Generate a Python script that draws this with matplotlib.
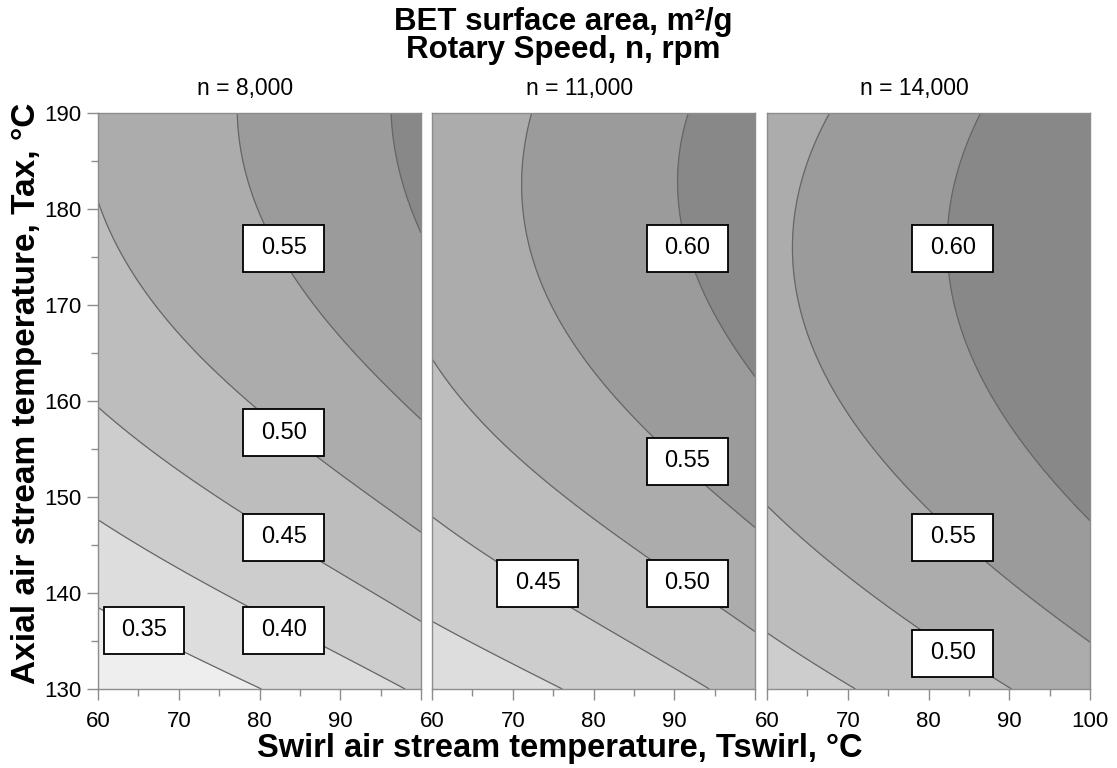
import numpy as np
import matplotlib
matplotlib.use("Agg")
import matplotlib.pyplot as plt
from matplotlib.colors import ListedColormap, BoundaryNorm
from matplotlib.patches import Rectangle

plt.rcParams['font.family'] = ['Liberation Sans', 'DejaVu Sans']

# ---- data -------------------------------------------------------------
panel_titles = ["n = 8,000", "n = 11,000", "n = 14,000"]
line_levels = [0.35, 0.40, 0.45, 0.50, 0.55, 0.60]
fill_levels = [0.0, 0.35, 0.40, 0.45, 0.50, 0.55, 0.60, 1.0]
band_greys = ['#eeeeee', '#dddddd', '#cdcdcd', '#bdbdbd', '#acacac', '#9b9b9b', '#888888']

x_ticks = [60, 70, 80, 90, 100]
y_ticks = [130, 140, 150, 160, 170, 180, 190]

# traced iso-lines of BET surface area: swirl temperature, axial temperature, level
p1_tswirl = [60, 69.6, 79.2,
             60, 77.8, 88.0, 98.3,
             60, 77.6, 87.9, 100,
             60, 69.7, 78.5, 88.0, 100,
             77.2, 80.1, 84.2, 98.3, 100,
             96.2, 97.8, 100]
p1_tax = [138.9, 134.5, 130,
          147.2, 139.3, 134.1, 130,
          159.1, 148.0, 143.4, 137.2,
          180.9, 168.1, 159.6, 154.4, 146.2,
          190, 178.9, 172.9, 159.4, 157.8,
          190, 183.7, 177.1]
p1_bet = [0.35] * 3 + [0.40] * 4 + [0.45] * 4 + [0.50] * 5 + [0.55] * 5 + [0.60] * 3

p2_tswirl = [60, 66.8, 75.0,
             60, 68.0, 78.1, 87.4, 94.2,
             60, 63.9, 75.0, 86.2, 100,
             72.35, 71.4, 73.0, 77.9, 83.3, 87.0, 100,
             91.35, 90.5, 92.4, 95.7, 100]
p2_tax = [137.2, 133.7, 130,
          147.95, 143.4, 138.6, 133.7, 130,
          164.1, 160.1, 152.1, 143.8, 136.1,
          190, 182.7, 172.9, 164.6, 159.1, 156.3, 146.9,
          190, 183.75, 176.1, 168.1, 162.0]
p2_bet = [0.40] * 3 + [0.45] * 5 + [0.50] * 5 + [0.55] * 7 + [0.60] * 5

p3_tswirl = [60, 65.3, 70.7,
             60, 68.2, 76.5, 89.9,
             67.6, 64.1, 63.3, 64.5, 69.0, 74.4, 79.4, 88.0, 100,
             86.4, 83.5, 82.5, 83.5, 88.5, 93.0, 100]
p3_tax = [135.9, 132.7, 130,
          149.0, 143.8, 137.9, 130,
          190, 182.0, 175.7, 168.1, 159.1, 154.2, 148.3, 143.3, 134.9,
          190, 183.7, 176.8, 169.8, 159.1, 153.9, 147.6]
p3_bet = [0.45] * 3 + [0.50] * 4 + [0.55] * 9 + [0.60] * 7

# contour labels: (Tswirl, Tax, text)
p1_labels = [(83.0, 175.9, "0.55"), (83.0, 156.7, "0.50"), (83.0, 145.8, "0.45"),
             (83.0, 136.1, "0.40"), (65.7, 136.1, "0.35")]
p2_labels = [(91.6, 175.9, "0.60"), (91.6, 153.7, "0.55"), (91.6, 141.0, "0.50"),
             (73.1, 141.0, "0.45")]
p3_labels = [(83.0, 175.9, "0.60"), (83.0, 145.8, "0.55"), (83.0, 133.7, "0.50")]

panels = [
    (p1_tswirl, p1_tax, p1_bet, p1_labels),
    (p2_tswirl, p2_tax, p2_bet, p2_labels),
    (p3_tswirl, p3_tax, p3_bet, p3_labels),
]


def poly_terms(x, y):
    u = (np.asarray(x, float) - 80.0) / 20.0
    v = (np.asarray(y, float) - 160.0) / 30.0
    return np.stack([np.ones_like(u), u, v, u * u, v * v, u * v,
                     u ** 3, v ** 3, u * u * v, u * v * v], axis=-1)


def smooth_surface(tsw, tax, bet, ridge=1e-5, sweeps=6):
    """Polynomial response surface through the traced iso-lines.

    Rows are re-weighted by the inverse gradient so the fit minimises the
    distance of each traced point from its line rather than the value error.
    """
    x = np.asarray(tsw, float)
    y = np.asarray(tax, float)
    b = np.asarray(bet, float)
    A = poly_terms(x, y)
    D = np.diag([0, 0, 0, 0, 0, 0, 1, 1, 1, 1]) * np.sqrt(ridge)
    w = np.ones_like(b)
    coef = None
    for _ in range(sweeps):
        A_aug = np.vstack([A * w[:, None], D])
        b_aug = np.concatenate([b * w, np.zeros(10)])
        coef, *_ = np.linalg.lstsq(A_aug, b_aug, rcond=None)
        h = 0.05
        gx_ = (poly_terms(x + h, y) - poly_terms(x - h, y)) @ coef / (2 * h) / 8.07
        gy_ = (poly_terms(x, y + h) - poly_terms(x, y - h)) @ coef / (2 * h) / 9.6
        g = np.hypot(gx_, gy_)
        g = np.maximum(g, 0.15 * np.median(g))
        w = 1.0 / g
        w = w / w.mean()
    return lambda X, Y: poly_terms(X, Y) @ coef


# ---- figure -----------------------------------------------------------
W, H = 1117, 768
fig = plt.figure(figsize=(W / 100, H / 100), dpi=100)

cmap = ListedColormap(band_greys)
norm = BoundaryNorm(fill_levels, cmap.N)
spine_col = '#8c8c8c'

lefts = [98, 432, 767]
ax_w, ax_top, ax_bot = 323, 113, 689

gx = np.linspace(60, 100, 240)
gy = np.linspace(130, 190, 240)
GX, GY = np.meshgrid(gx, gy)

for i, (tsw, tax, bet, labels) in enumerate(panels):
    ax = fig.add_axes([lefts[i] / W, 1 - ax_bot / H, ax_w / W, (ax_bot - ax_top) / H])
    surf = smooth_surface(tsw, tax, bet)
    Z = surf(GX, GY)
    ax.contourf(GX, GY, Z, levels=fill_levels, cmap=cmap, norm=norm)
    ax.contour(GX, GY, Z, levels=line_levels, colors='#666666', linewidths=0.9)

    for (lx, ly, txt) in labels:
        ax.add_patch(Rectangle((lx - 5.0, ly - 2.45), 10.0, 4.9, facecolor='white',
                               edgecolor='black', linewidth=1.3, zorder=5))
        ax.text(lx, ly, txt, ha='center', va='center', fontsize=17, zorder=6)

    ax.set_xlim(60, 100)
    ax.set_ylim(130, 190)
    ax.set_xticks(x_ticks)
    ax.set_xticks([65, 75, 85, 95], minor=True)
    if i < 2:
        ax.set_xticklabels([str(t) for t in x_ticks[:-1]] + [''])
    else:
        ax.set_xticklabels([str(t) for t in x_ticks])
    if i == 0:
        ax.set_yticks(y_ticks)
        ax.set_yticks([135, 145, 155, 165, 175, 185], minor=True)
        ax.set_yticklabels([str(t) for t in y_ticks])
    else:
        ax.set_yticks([])
        ax.set_yticks([], minor=True)
    ax.tick_params(axis='both', which='major', length=8, width=1, color=spine_col,
                   labelsize=16)
    ax.tick_params(axis='x', which='major', pad=8)
    ax.tick_params(axis='y', which='major', pad=4)
    ax.tick_params(axis='both', which='minor', length=5, width=1, color=spine_col)
    for s in ax.spines.values():
        s.set_color(spine_col)
        s.set_linewidth(1.0)
    fig.text((lefts[i] + ax_w / 2 - 14) / W, 1 - 88 / H, panel_titles[i],
             ha='center', va='center', fontsize=16.5)

fig.text(0.504, 1 - 22 / H, "BET surface area, m²/g", ha='center', va='center',
         fontsize=22.5, fontweight='bold')
fig.text(0.504, 1 - 50 / H, "Rotary Speed, n, rpm", ha='center', va='center',
         fontsize=22.5, fontweight='bold')
fig.text(0.501, 1 - 748 / H, "Swirl air stream temperature, Tswirl, °C", ha='center',
         va='center', fontsize=23.5, fontweight='bold')
fig.text(27 / W, 1 - 393 / H, "Axial air stream temperature, Tax, °C", ha='center',
         va='center', rotation=90, fontsize=24, fontweight='bold')

fig.savefig("out.png", dpi=100)
